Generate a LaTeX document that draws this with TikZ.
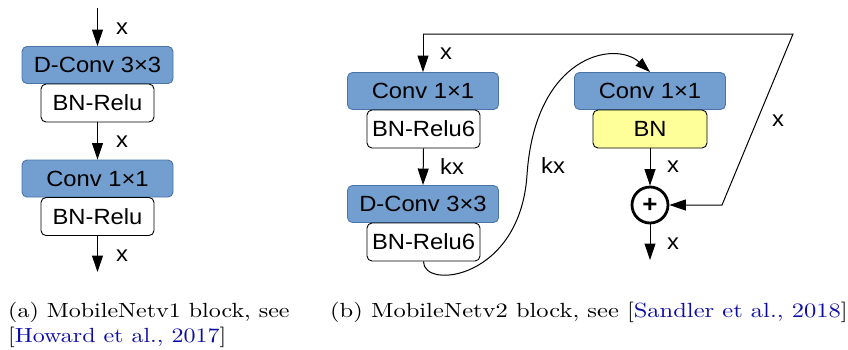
\documentclass[tikz,border=0pt]{standalone}
\usepackage{fontspec}
\newfontfamily\boxfont[FakeStretch=1.08]{Liberation Sans}
\usetikzlibrary{arrows.meta}
\definecolor{convblue}{HTML}{729FCF}
\definecolor{convedge}{HTML}{4A74A8}
\definecolor{bnyellow}{HTML}{FFFF99}
\definecolor{citeblue}{rgb}{0.05,0.05,0.65}
\tikzset{
  arr/.style={line width=1pt, -{Triangle[length=16.5pt,width=11pt]}},
  convbox/.style={draw=convedge, fill=convblue, line width=0.9pt, rounded corners=5pt,
    minimum width=151pt, minimum height=37pt, inner sep=0pt, font=\boxfont\fontsize{22}{26}\selectfont},
  bnbox/.style={draw=black, fill=white, line width=0.9pt, rounded corners=5pt,
    minimum width=113pt, minimum height=38pt, inner sep=0pt, font=\boxfont\fontsize{22}{26}\selectfont},
  lbl/.style={font=\boxfont\fontsize{22}{26}\selectfont, inner sep=0pt},
  captext/.style={inner sep=0pt, anchor=base west},
}
\newcommand{\citelink}[1]{[\textcolor{citeblue}{#1}]}
% caption text: 10pt design size, enlarged
\newcommand{\captxt}[2][2.45]{\scalebox{#1}[2.05]{\fontsize{10}{12}\selectfont #2}}
\begin{document}
\begin{tikzpicture}[x=1pt, y=-1pt]
\useasboundingbox (0,0) rectangle (848,349);

% ---- (a) MobileNetv1 block ----
\node[convbox] (a1) at (97.5,65) {D-Conv 3×3};
\node[bnbox]   (a2) at (97.5,103) {BN-Relu};
\node[convbox] (a3) at (97.5,178.5) {Conv 1×1};
\node[bnbox]   (a4) at (97.5,216.5) {BN-Relu};
\coordinate (ain) at (97.5,8);
\coordinate (aout) at (97.5,272);
\draw[arr] (ain) -- (a1.north);
\draw[arr] (a2.south) -- (a3.north);
\draw[arr] (a4.south) -- (aout);
\node[lbl] (ax1) at (122,29) {x};
\node[lbl] (ax2) at (122,142) {x};
\node[lbl] (ax3) at (122,256) {x};

% ---- (b) MobileNetv2 block ----
\node[convbox] (b1) at (423,91) {Conv 1×1};
\node[bnbox]   (b2) at (423.5,129) {BN-Relu6};
\node[convbox] (b3) at (423,204) {D-Conv 3×3};
\node[bnbox]   (b4) at (423.5,242) {BN-Relu6};
\node[convbox] (c1) at (650,91) {Conv 1×1};
\node[bnbox, fill=bnyellow, minimum width=114pt] (c2) at (650,129) {BN};
\node[circle, draw, line width=2.8pt, minimum size=36pt, inner sep=0pt,
      font=\boxfont\bfseries\fontsize{24}{26}\selectfont] (sum) at (650,205) {+};
\coordinate (tl) at (423,34);
\coordinate (tr) at (793,34);
\coordinate (br) at (722,205);
\coordinate (bout) at (650,260);

\draw[arr] (tl) -- (b1.north);
\draw[arr] (tl) -- (tr) -- (br) -- (sum.east);
\draw[arr] (b2.south) -- (b3.north);
\draw[arr] (c2.south) -- (sum.north);
\draw[arr] (sum.south) -- (bout);
\draw[line width=1pt, -{Triangle[length=15pt,width=10pt]}]
  (b4.south) .. controls (423,290) and (520,280) .. (527,175)
             .. controls (535,55) and (615,40) .. (c1.north);

\node[lbl] (bx1) at (446,54) {x};
\node[lbl] (bk1) at (452,167) {kx};
\node[lbl] (bk2) at (553,166) {kx};
\node[lbl] (bx2) at (673,167) {x};
\node[lbl] (bx3) at (673,244) {x};
\node[lbl] (bx4) at (778,121) {x};

% ---- captions ----
\node[captext] (capa) at (8,317) {\captxt[2.4]{(a) MobileNetv1 block, see}};
\node[captext] (capa2) at (8,342) {\captxt[2.4]{\citelink{Howard et al., 2017}}};
\node[captext] (capb) at (330,317) {\captxt{(b) MobileNetv2 block, see \citelink{Sandler et al., 2018}}};
\end{tikzpicture}
\end{document}
